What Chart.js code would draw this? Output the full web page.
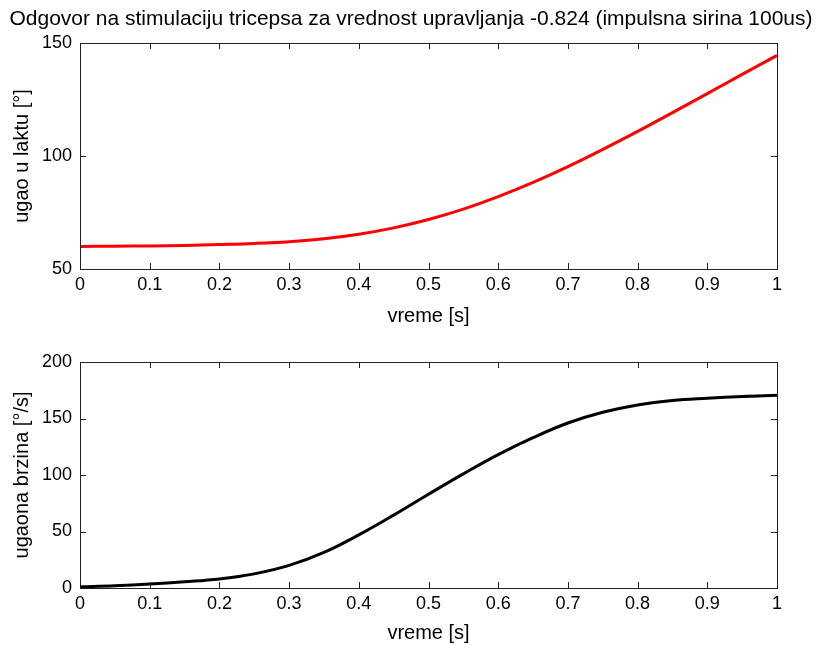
<!DOCTYPE html>
<html>
<head>
<meta charset="utf-8">
<script src="https://cdn.jsdelivr.net/npm/chart.js@4/dist/chart.umd.min.js"></script>
<style>
html,body{margin:0;padding:0;background:#fff;}
#wrap{position:relative;width:826px;height:645px;}
#c1{position:absolute;left:0;top:0;}
#c2{position:absolute;left:0;top:330px;}
</style>
</head>
<body>
<div id="wrap">
<canvas id="c1" width="826" height="330"></canvas>
<canvas id="c2" width="826" height="315"></canvas>
</div>
<script>
const titleText = "Odgovor na stimulaciju tricepsa za vrednost upravljanja -0.824 (impulsna sirina 100us)";
const time = [0,0.05,0.1,0.15,0.2,0.25,0.3,0.35,0.4,0.45,0.5,0.55,0.6,0.65,0.7,0.75,0.8,0.85,0.9,0.95,1.0];
const angle = [60,60.1,60.2,60.4,60.8,61.3,62.1,63.4,65.4,68.2,71.9,76.5,82,88.3,95.3,102.9,110.9,119.2,127.6,136.1,144.5];
const velocity = [1,2,3.5,5.5,8,12.5,20,31.5,47,64.5,83,101,118,133,146,155.5,162,166,168,169.5,170.5];
const xTicks = [0,0.1,0.2,0.3,0.4,0.5,0.6,0.7,0.8,0.9,1];
const yTicksTop = [50,100,150];
const yTicksBottom = [0,50,100,150,200];

const FONT = "'Liberation Sans', Arial, sans-serif";
Chart.defaults.font.family = FONT;
Chart.defaults.color = '#000';

const boxTicks = {
  id: 'boxTicks',
  afterDatasetsDraw(chart) {
    const {ctx, chartArea: a, scales} = chart;
    ctx.save();
    ctx.strokeStyle = '#222';
    ctx.lineWidth = 1;
    ctx.strokeRect(a.left + 0.5, a.top + 0.5, a.right - a.left, a.bottom - a.top);
    const L = 6;
    ctx.beginPath();
    scales.x.ticks.forEach(t => {
      const px = Math.round(scales.x.getPixelForValue(t.value)) + 0.5;
      ctx.moveTo(px, a.bottom); ctx.lineTo(px, a.bottom - L);
      ctx.moveTo(px, a.top); ctx.lineTo(px, a.top + L);
    });
    scales.y.ticks.forEach(t => {
      const py = Math.round(scales.y.getPixelForValue(t.value)) + 0.5;
      ctx.moveTo(a.left, py); ctx.lineTo(a.left + L, py);
      ctx.moveTo(a.right, py); ctx.lineTo(a.right - L, py);
    });
    ctx.stroke();
    const tt = chart.options.plugins.boxTicks && chart.options.plugins.boxTicks.title;
    if (tt) {
      ctx.fillStyle = '#000';
      ctx.font = "21px " + FONT;
      ctx.textAlign = 'center';
      ctx.textBaseline = 'middle';
      ctx.fillText(tt, 411, 19);
    }
    ctx.restore();
  }
};

function makeChart(id, yVals, color, yMin, yMax, yTickList, yTitle, topPad, xHeight, xTitlePad, title) {
  const pts = time.map((t, i) => ({x: t, y: yVals[i]}));
  return new Chart(document.getElementById(id), {
    type: 'line',
    data: { datasets: [{ data: pts, borderColor: color, borderWidth: 3, pointRadius: 0, tension: 0.4, fill: false }] },
    options: {
      responsive: false, animation: false,
      layout: { padding: { top: topPad, right: 49, left: 0, bottom: 0 } },
      plugins: {
        legend: { display: false }, tooltip: { enabled: false },
        title: { display: false },
        boxTicks: { title: title }
      },
      scales: {
        x: {
          type: 'linear', min: 0, max: 1,
          afterBuildTicks: s => { s.ticks = xTicks.map(v => ({value: v})); },
          afterFit: s => { s.height = xHeight; },
          grid: { display: false, drawTicks: false }, border: { display: false },
          ticks: { font: { size: 18 }, padding: 5, maxRotation: 0, callback: v => String(v) },
          title: { display: true, text: 'vreme [s]', font: { size: 20 }, padding: { top: 0, bottom: xTitlePad } }
        },
        y: {
          type: 'linear', min: yMin, max: yMax,
          afterBuildTicks: s => { s.ticks = yTickList.map(v => ({value: v})); },
          afterFit: s => { s.width = 80; },
          grid: { display: false, drawTicks: false }, border: { display: false },
          ticks: { font: { size: 18 }, padding: 8, callback: v => String(v) },
          title: { display: true, text: yTitle, font: { size: 20 }, padding: { top: 10, bottom: 0 } }
        }
      }
    },
    plugins: [boxTicks]
  });
}

makeChart('c1', angle, '#ff0000', 50, 150, yTicksTop, 'ugao u laktu [°]', 43, 61, 2, titleText);
makeChart('c2', velocity, '#000000', 0, 200, yTicksBottom, 'ugaona brzina [°/s]', 32, 57, 0, null);
</script>
</body>
</html>
